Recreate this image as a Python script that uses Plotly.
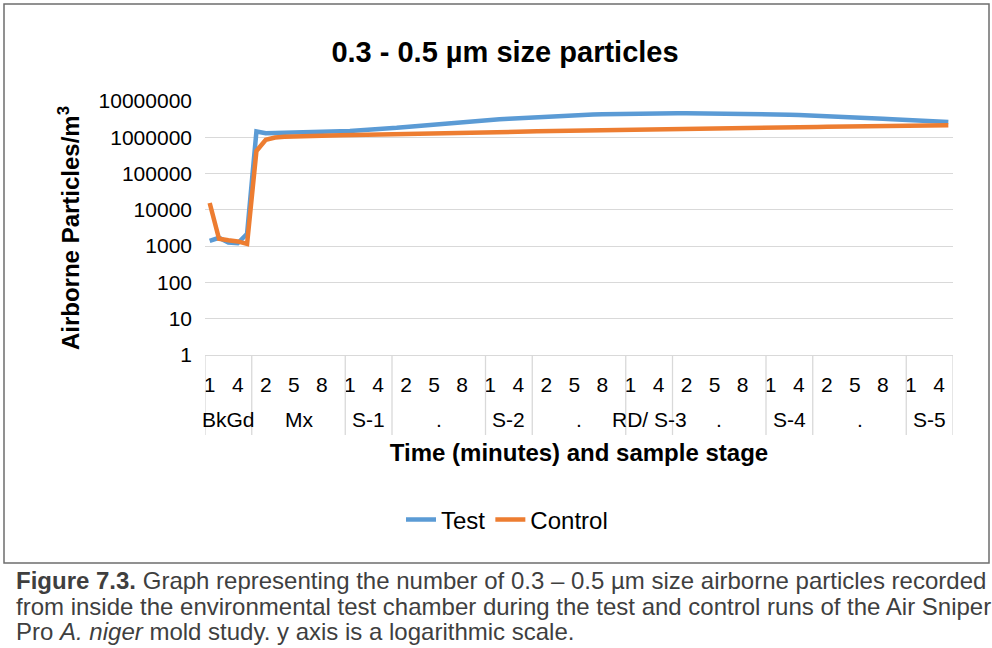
import plotly.graph_objects as go

# ---------------- data ----------------
group_names = ["BkGd", "Mx", "S-1", ".", "S-2", ".", "RD/ S-3", ".", "S-4", ".", "S-5"]
group_sizes = [5, 10, 5, 10, 5, 10, 5, 10, 5, 10, 5]

test_values = [
    1400, 1700, 1250, 1200, 2200,
    1450000, 1300000, 1310000, 1330000, 1350000, 1370000, 1390000, 1410000, 1440000, 1470000,
    1500000, 1540000, 1580000, 1640000, 1720000,
    1820000, 1930000, 2040000, 2150000, 2260000, 2380000, 2500000, 2620000, 2750000, 2880000,
    3000000, 3130000, 3260000, 3380000, 3500000,
    3620000, 3740000, 3850000, 3960000, 4060000, 4160000, 4250000, 4330000, 4400000, 4460000,
    4500000, 4540000, 4570000, 4590000, 4600000,
    4610000, 4610000, 4600000, 4590000, 4570000, 4540000, 4510000, 4470000, 4430000, 4380000,
    4320000, 4260000, 4190000, 4120000, 4040000,
    3960000, 3870000, 3780000, 3680000, 3580000, 3470000, 3360000, 3250000, 3140000, 3030000,
    2930000, 2840000, 2760000, 2690000, 2630000,
]
control_values = [
    15500, 1600, 1450, 1350, 1150,
    420000, 850000, 980000, 1030000, 1060000, 1080000, 1100000, 1110000, 1120000, 1130000,
    1140000, 1150000, 1160000, 1170000, 1180000,
    1190000, 1200000, 1210000, 1220000, 1240000, 1260000, 1280000, 1300000, 1320000, 1340000,
    1360000, 1380000, 1400000, 1420000, 1440000,
    1460000, 1470000, 1480000, 1490000, 1500000, 1510000, 1520000, 1530000, 1540000, 1550000,
    1560000, 1570000, 1580000, 1590000, 1600000,
    1620000, 1640000, 1660000, 1680000, 1700000, 1720000, 1740000, 1760000, 1780000, 1800000,
    1820000, 1840000, 1860000, 1880000, 1900000,
    1920000, 1940000, 1960000, 1980000, 2000000, 2020000, 2040000, 2060000, 2080000, 2100000,
    2110000, 2120000, 2130000, 2140000, 2150000,
]
y_tick_values = [1, 10, 100, 1000, 10000, 100000, 1000000, 10000000]
y_tick_labels = ["1", "10", "100", "1000", "10000", "100000", "1000000", "10000000"]

# category structure (minute within each stage)
minutes = []
for size in group_sizes:
    minutes.extend(range(1, size + 1))
x_index = list(range(len(minutes)))
label_step = 3
x_tick_vals = [i for i in x_index if i % label_step == 0]
x_tick_text = [str(minutes[i]) for i in x_tick_vals]

# ---------------- layout geometry ----------------
W_FIG, H_FIG = 992, 648
L, R, T, B = 205, 953, 101, 355
PW, PH = R - L, B - T


def px2x(px):
    return (px - L) / PW


def py2y(py):
    return (B - py) / PH


FONT = "Liberation Sans, Arial, sans-serif"
BLUE = "#5B9BD5"
ORANGE = "#ED7D31"
GRID = "#D9D9D9"

fig = go.Figure()
fig.add_trace(go.Scatter(x=x_index, y=test_values, mode="lines", name="Test",
                         line=dict(color=BLUE, width=4.5)))
fig.add_trace(go.Scatter(x=x_index, y=control_values, mode="lines", name="Control",
                         line=dict(color=ORANGE, width=4.5)))

shapes = []
# group separators in the category label area
bounds = [-0.5]
for size in group_sizes:
    bounds.append(bounds[-1] + size)
for b in bounds:
    shapes.append(dict(type="line", xref="x", yref="paper", x0=b, x1=b,
                       y0=0, y1=py2y(435), line=dict(color=GRID, width=1.3)))
# chart border
shapes.append(dict(type="rect", xref="paper", yref="paper",
                   x0=px2x(4), x1=px2x(989), y0=py2y(4), y1=py2y(563),
                   line=dict(color="#6E6E6E", width=1.5), layer="below"))

annotations = []
for gi, name in enumerate(group_names):
    lo, hi = bounds[gi], bounds[gi + 1]
    annotations.append(dict(xref="x", yref="paper", x=(lo + hi) / 2, y=py2y(419),
                            text=name, showarrow=False, xanchor="center", yanchor="middle",
                            font=dict(family=FONT, size=21, color="#000000")))

caption_lines = [
    "<b>Figure 7.3.</b> Graph representing the number of 0.3 – 0.5 µm size airborne particles recorded",
    "from inside the environmental test chamber during the test and control runs of the Air Sniper",
    "Pro <i>A. niger</i> mold study. y axis is a logarithmic scale.",
]
for line, cy in zip(caption_lines, [580, 606, 631]):
    annotations.append(dict(xref="paper", yref="paper", x=px2x(14), y=py2y(cy),
                            text=line, showarrow=False, xanchor="left", yanchor="middle",
                            font=dict(family=FONT, size=24, color="#3F3F3F")))

fig.update_layout(
    width=W_FIG, height=H_FIG,
    margin=dict(l=L, r=W_FIG - R, t=T, b=H_FIG - B, pad=0),
    paper_bgcolor="white", plot_bgcolor="white",
    title=dict(text="<b>0.3 - 0.5 µm size particles</b>", x=px2x(505), xref="paper",
               xanchor="center", y=1 - 52 / H_FIG, yref="container", yanchor="middle",
               font=dict(family=FONT, size=29, color="#000000")),
    showlegend=True,
    legend=dict(orientation="h", x=px2x(507), xanchor="center", y=py2y(520), yanchor="middle",
                font=dict(family=FONT, size=24, color="#000000"), bgcolor="rgba(0,0,0,0)"),
    shapes=shapes,
    annotations=annotations,
    xaxis=dict(range=[-0.5, len(minutes) - 0.5], tickmode="array", tickvals=x_tick_vals,
               ticktext=x_tick_text, ticks="", ticklabelstandoff=11, showgrid=False,
               zeroline=False, showline=True, linecolor=GRID, linewidth=1.3,
               tickfont=dict(family=FONT, size=21, color="#000000"),
               title=dict(text="<b>Time (minutes) and sample stage</b>", standoff=48,
                          font=dict(family=FONT, size=24, color="#000000"))),
    yaxis=dict(type="log", range=[0, 7], tickmode="array", tickvals=y_tick_values,
               ticktext=y_tick_labels, ticks="", ticklabelstandoff=12, showgrid=True,
               gridcolor=GRID, gridwidth=1.3, zeroline=False, showline=False,
               tickfont=dict(family=FONT, size=21, color="#000000"),
               title=dict(text="<b>Airborne Particles/m<sup>3</sup></b>", standoff=12,
                          font=dict(family=FONT, size=24, color="#000000"))),
)

fig.write_html("out.html", config={"displayModeBar": False},
               post_script="document.body.style.margin='0px';document.body.style.overflow='hidden';")
